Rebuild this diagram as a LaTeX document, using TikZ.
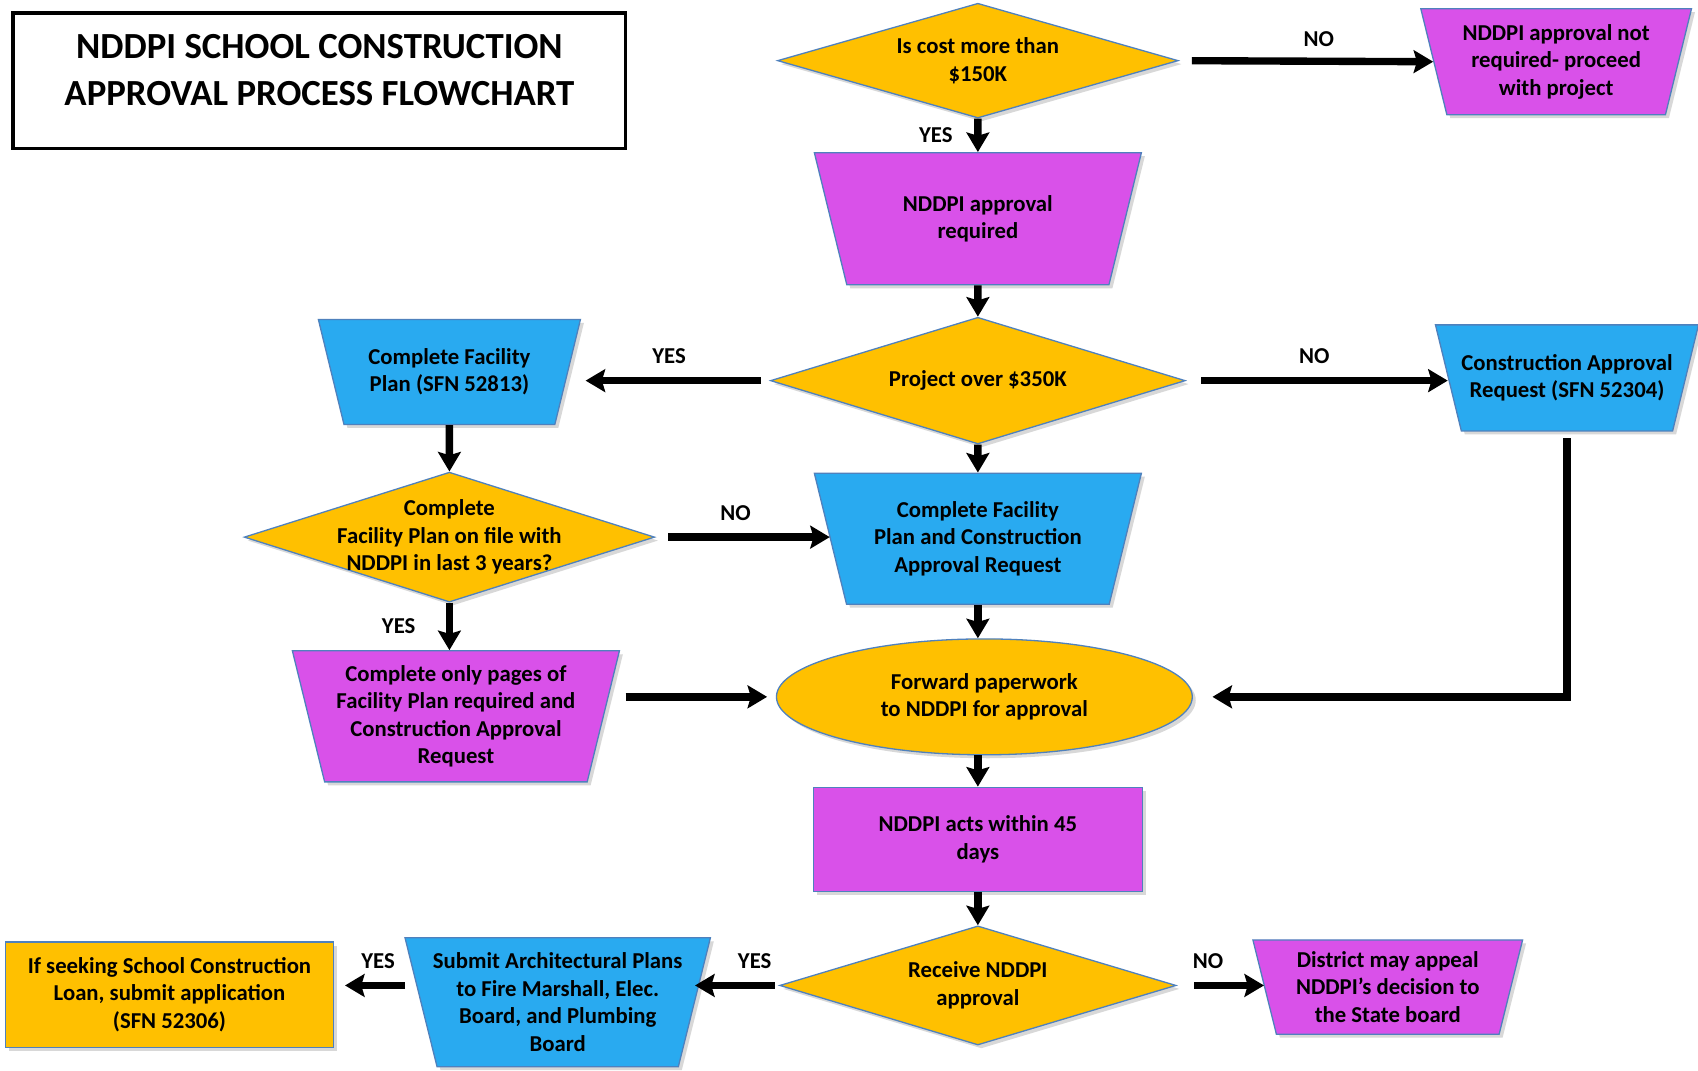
\documentclass[tikz,border=0pt]{standalone}
\usepackage{fontspec}
\setmainfont{Carlito}
\usetikzlibrary{shapes.geometric,arrows.meta,shadows}

\begin{document}
\begin{tikzpicture}[x=0.5pt,y=-0.5pt,
  box/.style={draw=edgeColor,line width=0.6pt,align=center,inner sep=0pt,
    font=\fontsize{10.5}{12.7}\selectfont\bfseries,
    drop shadow={shadow xshift=1.6pt,shadow yshift=-1.6pt,fill=black!30}},
  trap/.style={box,trapezium,trapezium left angle=76,trapezium right angle=76,
    shape border rotate=180,trapezium stretches body,inner ysep=#1},
  dec/.style={box,diamond,fill=goldColor},
  dectxt/.style={align=center,inner sep=0pt,font=\fontsize{10.5}{12.7}\selectfont\bfseries},
  arr/.style={line width=3.4pt,-{Stealth[length=9pt,width=10.5pt,inset=1.5pt]}},
  lbl/.style={inner sep=1pt,font=\fontsize{10.5}{12}\selectfont\bfseries}]
\definecolor{goldColor}{RGB}{255,192,0}
\definecolor{pinkColor}{RGB}{217,81,233}
\definecolor{skyColor}{RGB}{41,170,240}
\definecolor{edgeColor}{RGB}{79,129,189}
\path[use as bounding box,fill=white] (0,0) rectangle (1568,989);

\node[draw=black,line width=1.4pt,minimum width=283pt,minimum height=62.5pt] (ttl) at (295,74.5) {};
\node[align=center,font=\fontsize{17}{21.5}\selectfont\bfseries] (ttltxt) at (295,64.5) {NDDPI SCHOOL CONSTRUCTION\\APPROVAL PROCESS FLOWCHART};

\node[dec,minimum width=185pt,minimum height=53pt] (D1) at (903,56) {};
\node[dectxt] (D1t) at (D1) {Is cost more than\\\$150K};
\node[trap=6.9pt,fill=pinkColor,minimum width=125pt,minimum height=49pt] (T1) at (1437,57) {NDDPI approval not\\required- proceed\\with project};
\node[trap=19.2pt,fill=pinkColor,minimum width=151pt,minimum height=61pt] (T2) at (903,202) {NDDPI approval\\required};
\node[dec,minimum width=191.5pt,minimum height=58.5pt] (D2) at (903,351.5) {};
\node[dectxt] (D2t) at (D2) {Project over \$350K};
\node[trap=12.9pt,fill=skyColor,minimum width=121pt,minimum height=48.5pt] (T3) at (415,343.5) {Complete Facility\\Plan (SFN 52813)};
\node[trap=13.1pt,fill=skyColor,minimum width=121pt,minimum height=49pt] (T4) at (1447,349) {Construction Approval\\Request (SFN 52304)};
\node[dec,minimum width=189.5pt,minimum height=60pt] (D3) at (415,496) {};
\node[dectxt] (D3t) at (D3) {Complete\\Facility Plan on file with\\NDDPI in last 3 years?};
\node[trap=12.6pt,fill=skyColor,minimum width=151pt,minimum height=60.5pt] (T5) at (903,497.5) {Complete Facility\\Plan and Construction\\Approval Request};
\node[trap=6.3pt,fill=pinkColor,minimum width=151pt,minimum height=60.5pt] (T6) at (421,661.5) {Complete only pages of\\Facility Plan required and\\Construction Approval\\Request};
\node[box,ellipse,fill=goldColor,minimum width=192pt,minimum height=53.5pt] (E1) at (909,643.5) {Forward paperwork\\to NDDPI for approval};
\node[box,rectangle,fill=pinkColor,minimum width=152pt,minimum height=48pt] (R1) at (903,775) {NDDPI acts within 45\\days};
\node[dec,minimum width=183pt,minimum height=55pt] (D4) at (903,910) {};
\node[dectxt] (D4t) at (D4) {Receive NDDPI\\approval};
\node[trap=6.9pt,inner xsep=-2.2pt,fill=skyColor,minimum width=141pt,minimum height=59.5pt] (T7) at (515,925.5) {Submit Architectural Plans\\to Fire Marshall, Elec.\\Board, and Plumbing\\Board};
\node[box,rectangle,fill=goldColor,minimum width=151.5pt,minimum height=48.5pt] (R2) at (156.5,918.5) {If seeking School Construction\\Loan, submit application\\(SFN 52306)};
\node[trap=5.3pt,fill=pinkColor,minimum width=124.5pt,minimum height=43.5pt] (T8) at (1281.5,911.5) {District may appeal\\NDDPI’s decision to\\the State board};

\draw[arr,shorten <=6pt] (D1.east) -- (T1.west) node[lbl,above=4pt,pos=0.55] (noA) {NO};
\draw[arr] (D1.south) -- (T2.north) node[lbl,left=9pt,midway] (yesA) {YES};
\draw[arr] (T2.south) -- (D2.north);
\draw[arr,shorten <=4pt,shorten >=8pt] (D2.west) -- (D2.west -| T3.east) node[lbl,above=5pt,midway] (yesB) {YES};
\draw[arr,shorten <=7pt] (D2.east) -- (D2.east -| T4.west) node[lbl,above=5pt,pos=0.49] (noB) {NO};
\draw[arr] (T3.south) -- (D3.north);
\draw[arr,shorten <=6pt] (D3.east) -- (D3.east -| T5.west) node[lbl,above=5pt,pos=0.46] (noC) {NO};
\draw[arr] (D2.south) -- (T5.north);
\draw[arr] (D3.south) -- (D3.south |- T6.north) node[lbl,left=13pt,midway] (yesC) {YES};
\draw[arr,shorten <=10pt,shorten >=4pt] (E1.west -| T6.east) -- (E1.west);
\draw[arr] (T5.south) -- (T5.south |- E1.north);
\draw[arr,shorten <=3pt,shorten >=9pt] (T4.south) |- (E1.east);
\draw[arr] (R1.north |- E1.south) -- (R1.north);
\draw[arr] (R1.south) -- (D4.north);
\draw[arr,shorten <=2pt] (D4.west) -- (D4.west -| T7.east) node[lbl,above=5pt,pos=0.29] (yesD) {YES};
\draw[arr,shorten <=7pt,shorten >=5pt] (T7.west |- D4.west) -- (R2.east |- D4.west) node[lbl,above=5pt,pos=0.49] (yesE) {YES};
\draw[arr,shorten <=8pt] (D4.east) -- (D4.east -| T8.west) node[lbl,above=5pt,pos=0.36] (noD) {NO};
\end{tikzpicture}
\end{document}
